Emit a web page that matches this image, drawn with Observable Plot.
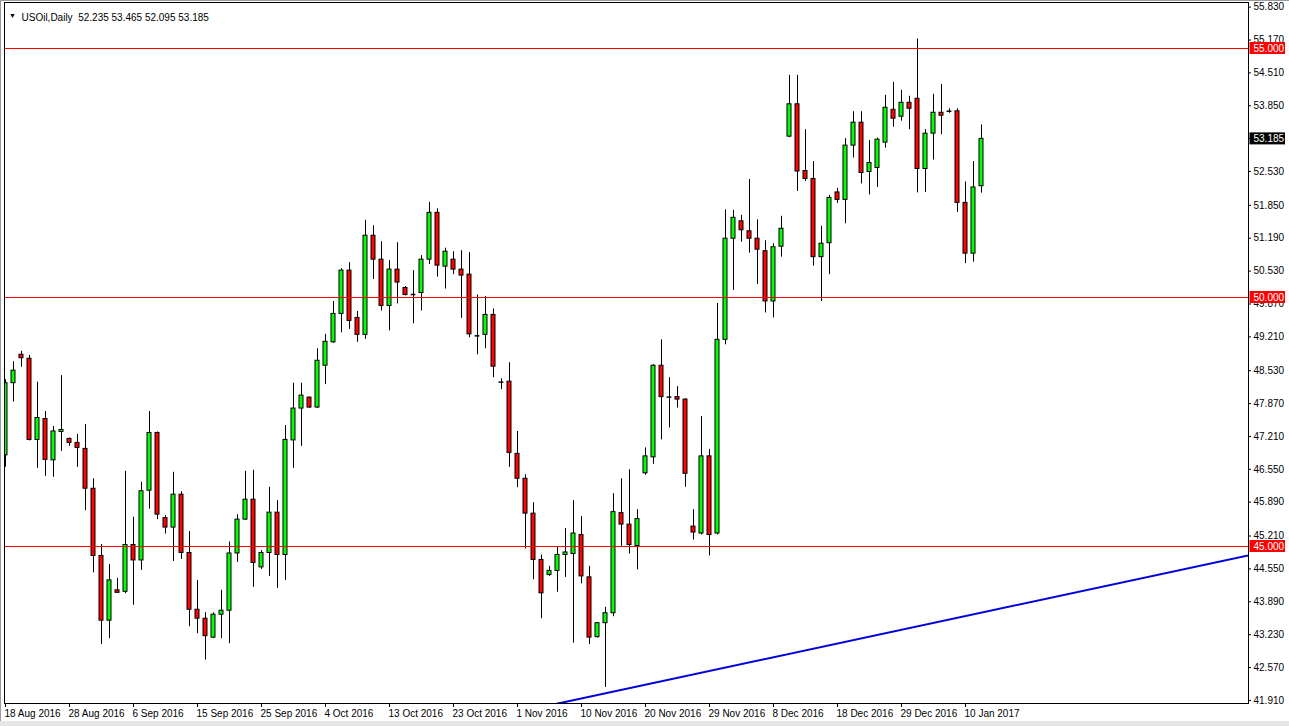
<!DOCTYPE html>
<html>
<head>
<meta charset="utf-8">
<script src="https://cdn.jsdelivr.net/npm/d3@7"></script>
<script src="https://cdn.jsdelivr.net/npm/@observablehq/plot@0.6"></script>
<style>
html, body { margin: 0; padding: 0; background: #e6e6e6; }
#wrap { position: relative; width: 1289px; height: 726px; background: #e6e6e6; overflow: hidden; }
#chart { position: absolute; left: 0; top: 0; width: 1289px; height: 721px; background: #fff; }
#chart svg { display: block; }
#edge { position: absolute; left: 0; top: 0; width: 1288px; height: 720px; border-left: 1px solid #9a9a9a; border-top: 1px solid #9a9a9a; pointer-events: none; }
</style>
</head>
<body>
<div id="wrap"><div id="chart"></div><div id="edge"></div></div>
<script>
// ---- data ----
const symbol = "USOil,Daily";
const open  = [46.83,48.28,48.85,48.77,47.14,47.56,46.73,47.30,47.16,47.08,46.96,46.16,44.81,43.51,44.12,44.09,45.03,44.72,46.12,47.28,
               45.57,45.38,46.04,44.87,43.73,43.55,43.17,43.63,43.71,44.86,45.54,45.94,44.58,44.87,45.68,44.83,47.13,47.77,47.99,47.79,
               48.63,49.10,49.67,50.54,49.59,49.25,51.24,50.76,49.83,50.56,50.19,50.06,50.09,50.76,51.70,50.62,50.76,50.56,50.46,49.23,
               49.25,49.65,48.30,48.31,46.86,46.36,45.66,44.73,44.43,44.51,44.83,44.85,45.23,44.38,43.18,43.46,43.66,45.67,45.44,45.01,
               46.47,46.79,48.63,48.00,48.00,47.95,45.40,45.26,46.81,45.26,49.15,51.18,51.53,51.33,51.18,50.93,49.92,51.02,53.23,53.88,
               52.54,52.38,50.81,51.09,52.11,51.96,53.05,53.51,52.52,52.60,53.11,53.77,53.63,53.91,53.99,52.58,53.29,53.71,53.74,53.74,
               51.90,50.88,52.235];
const high  = [48.35,48.71,48.92,48.84,48.30,47.71,47.41,48.43,47.18,47.25,47.45,46.36,45.04,44.64,44.36,46.51,45.59,46.29,47.71,47.30,
               45.62,46.49,46.10,45.30,44.32,43.67,43.67,44.12,45.09,45.64,46.51,46.53,44.92,46.19,45.92,47.43,48.28,48.28,48.00,48.97,
               49.26,49.92,50.58,50.70,49.72,51.55,51.44,51.12,50.74,51.10,50.22,50.54,50.84,51.91,51.78,50.99,50.92,50.94,50.90,50.05,
               50.02,49.77,48.37,48.69,47.31,46.44,45.88,44.83,44.60,44.99,45.36,45.92,45.60,44.60,43.47,43.78,46.06,46.36,46.54,45.74,
               46.98,48.65,49.15,48.39,48.21,47.97,45.74,47.61,46.95,49.88,51.76,51.75,51.65,52.37,51.56,51.14,51.08,51.63,54.46,54.46,
               53.37,52.73,51.43,52.05,52.19,53.19,53.73,53.73,53.15,53.20,54.06,54.32,54.16,54.04,55.19,53.37,54.08,54.28,53.79,53.79,
               52.32,52.73,53.465];
const low   = [46.59,47.90,48.60,47.12,46.57,46.41,46.39,46.91,47.01,46.59,45.72,44.47,43.03,43.15,44.06,44.05,43.82,44.52,45.75,45.54,
               45.25,44.70,44.74,43.39,43.25,42.72,43.15,43.15,43.05,44.68,45.52,44.18,44.54,44.40,44.16,44.32,46.57,47.01,47.77,47.77,
               48.25,49.08,49.29,49.36,49.10,49.16,50.36,49.73,49.33,49.87,50.03,49.47,49.73,50.66,50.41,50.17,50.46,49.58,49.19,48.85,
               48.97,48.39,48.15,46.59,46.18,44.95,44.33,43.55,44.40,44.08,44.38,43.06,44.25,43.03,43.16,42.17,43.59,45.00,44.85,44.53,
               46.43,46.65,47.14,47.38,47.78,46.19,45.13,45.23,44.81,45.23,49.05,50.14,51.11,50.89,50.26,49.69,49.59,50.81,53.21,52.13,
               52.33,50.63,49.92,50.46,51.89,51.48,52.80,52.28,52.06,52.21,53.00,53.42,53.54,53.37,52.10,52.11,52.76,53.27,53.70,51.71,
               50.68,50.71,52.095];
const close = [48.28,48.53,48.78,47.14,47.58,46.74,47.31,47.34,47.08,46.98,46.16,44.81,43.51,44.32,44.07,45.03,44.72,46.11,47.28,45.64,
               45.38,46.04,44.87,43.73,43.55,43.20,43.63,43.71,44.86,45.54,45.94,44.67,44.87,45.68,44.83,47.14,47.77,48.03,47.79,48.73,
               49.11,49.67,50.54,49.53,49.25,51.24,50.76,49.83,50.56,50.30,50.05,50.06,50.76,51.70,50.64,50.92,50.56,50.44,49.26,49.23,
               49.65,48.61,48.30,46.88,46.36,45.66,44.73,44.06,44.51,44.83,44.88,45.26,44.40,43.17,43.46,43.66,45.69,45.44,45.03,45.55,
               46.81,48.63,48.00,48.00,47.95,46.46,45.28,46.81,45.23,49.15,51.18,51.60,51.35,51.18,50.96,49.92,51.01,51.38,53.88,52.53,
               52.38,50.81,51.08,52.00,51.96,53.05,53.51,52.50,52.70,53.17,53.81,53.59,53.91,53.79,52.58,53.29,53.71,53.65,53.74,51.90,
               50.88,52.21,53.185];
const dateLabels = ["18 Aug 2016","28 Aug 2016","6 Sep 2016","15 Sep 2016","25 Sep 2016","4 Oct 2016","13 Oct 2016","23 Oct 2016",
                    "1 Nov 2016","10 Nov 2016","20 Nov 2016","29 Nov 2016","8 Dec 2016","18 Dec 2016","29 Dec 2016","10 Jan 2017"];
const priceTicks = [41.910,42.570,43.230,43.890,44.550,45.210,45.890,46.550,47.210,47.870,48.530,49.210,49.870,
                    50.530,51.190,51.850,52.530,53.190,53.850,54.510,55.170,55.830];
const levels = [55, 50, 45];
const trendBars   = [70, 155.3];
const trendPrices = [41.88, 44.82];

// ---- layout ----
const W = 1289, H = 721, mL = 4, mR = 41, mT = 2, mB = 18;
const xDomain = [-0.125, 155.375];
const yDomain = [41.8474, 55.9237];
const pxX = (xDomain[1] - xDomain[0]) / (W - mL - mR);
const pxY = (yDomain[1] - yDomain[0]) / (H - mT - mB);
const labelEvery = 8;

const bars = open.map((o, i) => ({i, o, h: high[i], l: low[i], c: close[i]}));
const bulls = bars.filter(d => d.c - d.o > 0.004);
const bears = bars.filter(d => d.o - d.c > 0.004);
const dojis = bars.filter(d => Math.abs(d.o - d.c) <= 0.004);
const last = bars[bars.length - 1];
const fmt = d3.format(".3f");
const titleText = `${symbol}  ${fmt(last.o)} ${fmt(last.h)} ${fmt(last.l)} ${fmt(last.c)}`;

const slope = (trendPrices[1] - trendPrices[0]) / (trendBars[1] - trendBars[0]);
const trend = [60, 160].map(b => ({bar: b, price: trendPrices[0] + slope * (b - trendBars[0])}));

const xMax = xDomain[1];
const font = "Liberation Sans, Arial, sans-serif";

const chart = Plot.plot({
  width: W, height: H,
  marginLeft: mL, marginRight: mR, marginTop: mT, marginBottom: mB,
  x: {type: "linear", domain: xDomain, axis: null},
  y: {type: "linear", domain: yDomain, axis: null},
  style: {background: "white", fontFamily: font, fontSize: "10px", overflow: "visible", color: "black"},
  marks: [
    // candles
    Plot.ruleX(bars, {x: "i", y1: "l", y2: "h", stroke: "black", strokeWidth: 1, clip: true}),
    Plot.rect(bulls, {x1: d => d.i - 0.25, x2: d => d.i + 0.25, y1: "o", y2: "c", fill: "#00ff00", stroke: "black", strokeWidth: 1, clip: true}),
    Plot.rect(bears, {x1: d => d.i - 0.25, x2: d => d.i + 0.25, y1: "o", y2: "c", fill: "#ff0000", stroke: "black", strokeWidth: 1, clip: true}),
    Plot.ruleY(dojis, {y: "o", x1: d => d.i - 0.3, x2: d => d.i + 0.3, stroke: "black", strokeWidth: 1.5, clip: true}),
    // horizontal levels
    Plot.ruleY(levels, {y: d => d, stroke: "#ff0000", strokeWidth: 1}),
    // trend line
    Plot.line(trend, {x: "bar", y: "price", stroke: "#0000dd", strokeWidth: 2, clip: true}),
    // frame
    Plot.frame({stroke: "black", strokeWidth: 1}),
    // right price axis
    Plot.ruleY(priceTicks, {y: d => d, x1: xMax, x2: xMax + 3 * pxX, stroke: "black"}),
    Plot.text(priceTicks, {y: d => d, x: xMax, dx: 5, text: d => fmt(d), textAnchor: "start", fill: "black", fontSize: 10}),
    // level price boxes
    Plot.rect(levels, {x1: xMax + 1.5 * pxX, x2: xMax + 37 * pxX, y1: d => d - 6 * pxY, y2: d => d + 6 * pxY, fill: "#ff0000"}),
    Plot.text(levels, {y: d => d, x: xMax, dx: 5, text: d => fmt(d), textAnchor: "start", fill: "white", fontSize: 10}),
    // last price box
    Plot.rect([last], {x1: xMax + 1.5 * pxX, x2: xMax + 37 * pxX, y1: d => d.c - 6 * pxY, y2: d => d.c + 6 * pxY, fill: "black"}),
    Plot.text([last], {y: "c", x: xMax, dx: 5, text: d => fmt(d.c), textAnchor: "start", fill: "white", fontSize: 10}),
    // date axis
    Plot.ruleX(dateLabels, {x: (d, i) => i * labelEvery, y1: yDomain[0], y2: yDomain[0] - 4 * pxY, stroke: "black"}),
    Plot.text(dateLabels, {x: (d, i) => i * labelEvery, y: yDomain[0], dx: -1, dy: 10, text: d => d, textAnchor: "start", fill: "black", fontSize: 10}),
    // title
    Plot.text(["\u25BC"], {frameAnchor: "top-left", dx: 8, dy: 11, fontSize: 7, fill: "black", textAnchor: "middle"}),
    Plot.text([titleText], {frameAnchor: "top-left", dx: 17, dy: 11, text: d => d, textAnchor: "start", fill: "black", fontSize: 10})
  ]
});
document.getElementById("chart").appendChild(chart);
</script>
</body>
</html>
